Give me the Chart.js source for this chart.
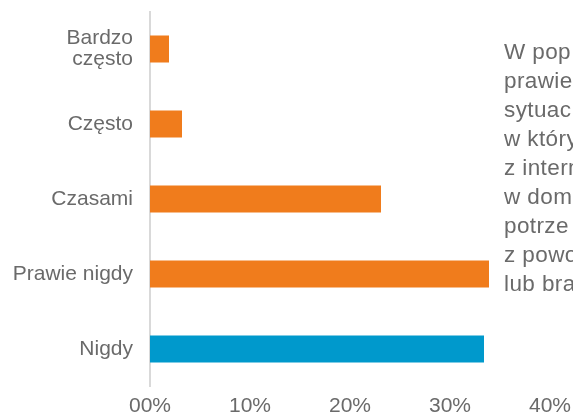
<!DOCTYPE html>
<html>
<head>
<meta charset="utf-8">
<script src="https://cdn.jsdelivr.net/npm/chart.js@4"></script>
<style>
    html, body { margin: 0; padding: 0; background: #fff; overflow: hidden; }
    #wrap { position: relative; width: 573px; height: 414px; }
    #freqChart { display: block; }
    #note {
        position: absolute;
        left: 504px;
        top: 37px;
        font-family: "Liberation Sans", Arial, sans-serif;
        font-size: 22.5px;
        line-height: 29px;
        letter-spacing: 0.4px;
        color: #6a6a6a;
        white-space: nowrap;
    }
</style>
</head>
<body>
<div id="wrap">
    <canvas id="freqChart" width="573" height="414"></canvas>
    <div id="note">W pop<br>prawie<br>sytuac<br>w który<br>z intern<br>w dom<br>potrze<br>z powo<br>lub bra</div>
</div>
<script>
// answers, top to bottom
const categories = [['Bardzo', 'często'], 'Często', 'Czasami', 'Prawie nigdy', 'Nigdy'];
const shares = [0.019, 0.032, 0.231, 0.339, 0.334];
const tickLabels = ['00%', '10%', '20%', '30%', '40%'];

const barColors = ['#F07C1C', '#F07C1C', '#F07C1C', '#F07C1C', '#0099CC'];
const textColor = '#6a6a6a';
const font = { family: '"Liberation Sans", Arial, sans-serif', size: 21, lineHeight: 1.0 };

const showFreqChart = () => {
    const ctx = document.getElementById('freqChart');

    new Chart(ctx, {
        type: 'bar',
        data: {
            labels: categories,
            datasets: [{
                data: shares,
                backgroundColor: barColors,
                barPercentage: 0.36,
                categoryPercentage: 1,
            }],
        },
        options: {
            indexAxis: 'y',
            responsive: false,
            animation: false,
            plugins: {
                legend: { display: false },
                tooltip: { enabled: false },
            },
            layout: {
                padding: { left: 0, right: 23, top: 11.5, bottom: 0 },
            },
            scales: {
                x: {
                    min: 0,
                    max: 0.4,
                    grid: { display: false, drawTicks: false },
                    border: { display: false },
                    afterFit: (axis) => {
                        axis.height = 27.5;
                        axis.paddingLeft = 0;
                        axis.paddingRight = 0;
                    },
                    afterBuildTicks: (axis) => {
                        axis.ticks = tickLabels.map((t, i) => ({ value: i * 0.1 }));
                    },
                    ticks: {
                        color: textColor,
                        font: font,
                        padding: 9,
                        maxRotation: 0,
                        callback: (v, i) => tickLabels[i],
                    },
                },
                y: {
                    grid: { display: false, drawTicks: false },
                    border: { display: true, color: '#d9d9d9', width: 2 },
                    afterFit: (axis) => {
                        axis.width = 150;
                        axis.paddingTop = 0;
                        axis.paddingBottom = 0;
                    },
                    ticks: {
                        color: textColor,
                        font: font,
                        padding: 17,
                    },
                },
            },
        },
    });
};

window.addEventListener('load', showFreqChart);
</script>
</body>
</html>
